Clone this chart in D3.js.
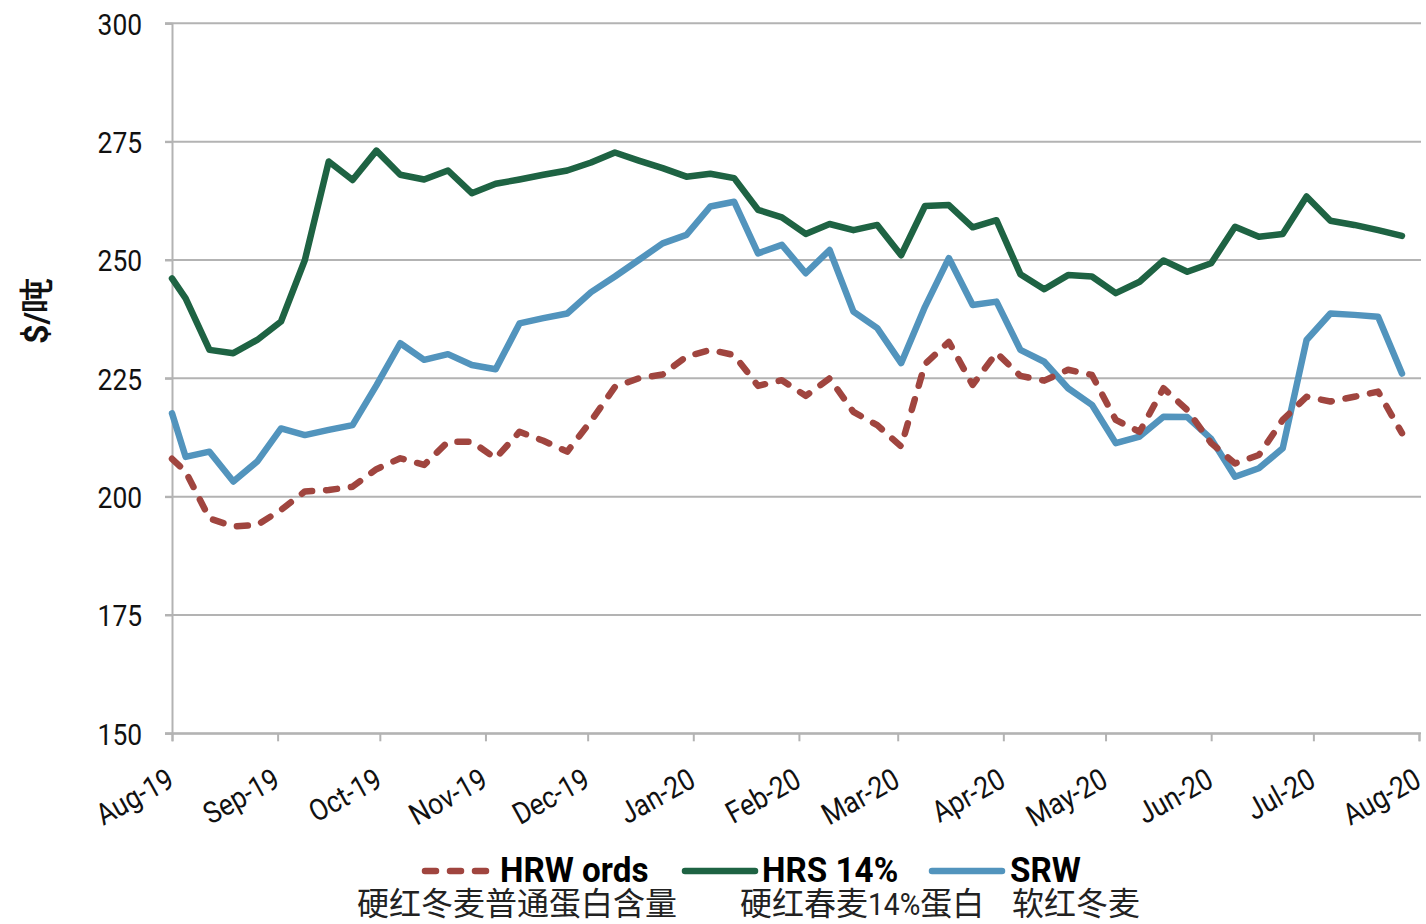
<!DOCTYPE html>
<html>
<head>
<meta charset="utf-8">
<script src="https://cdn.jsdelivr.net/npm/d3@7"></script>
<style>
  html, body { margin: 0; padding: 0; background: #fff; }
  svg { display: block; }
  .cond { font-family: Roboto, "Noto Sans", sans-serif; }
</style>
</head>
<body>
<svg id="chart" width="1426" height="924"></svg>
<script>
// Weekly wheat export prices, $/ton
const dates = [
  "2019-08-01","2019-08-05","2019-08-12","2019-08-19","2019-08-26",
  "2019-09-02","2019-09-09","2019-09-16","2019-09-23","2019-09-30",
  "2019-10-07","2019-10-14","2019-10-21","2019-10-28",
  "2019-11-04","2019-11-11","2019-11-18","2019-11-25",
  "2019-12-02","2019-12-09","2019-12-16","2019-12-23","2019-12-30",
  "2020-01-06","2020-01-13","2020-01-20","2020-01-27",
  "2020-02-03","2020-02-10","2020-02-17","2020-02-24",
  "2020-03-02","2020-03-09","2020-03-16","2020-03-23","2020-03-30",
  "2020-04-06","2020-04-13","2020-04-20","2020-04-27",
  "2020-05-04","2020-05-11","2020-05-18","2020-05-25",
  "2020-06-01","2020-06-08","2020-06-15","2020-06-22","2020-06-29",
  "2020-07-06","2020-07-13","2020-07-20","2020-07-27"
];

const hrwOrds = [
  208.0, 205.3, 195.4, 193.7, 194.0, 197.2, 201.1, 201.4, 202.1, 205.8,
  208.1, 206.7, 211.6, 211.6, 208.1, 213.7, 211.8, 209.5,
  216.0, 223.2, 225.0, 225.8, 229.6, 231.0, 229.9, 223.4, 224.6,
  221.3, 225.0, 217.9, 215.1, 210.6, 228.0, 232.7, 223.6, 230.4,
  225.5, 224.5, 226.8, 225.7, 216.2, 213.7, 222.9, 218.3, 211.3,
  207.0, 208.8, 216.2, 221.1, 220.1, 221.1, 222.2, 213.4
];

const hrs14 = [
  246.1, 241.9, 231.0, 230.3, 233.1, 237.0, 250.0, 270.8, 266.9, 273.1,
  268.0, 267.0, 268.9, 264.1, 266.1, 267.0, 268.0, 268.9,
  270.6, 272.7, 271.0, 269.4, 267.6, 268.2, 267.3, 260.6, 259.0,
  255.5, 257.6, 256.3, 257.4, 251.0, 261.4, 261.6, 256.9, 258.4,
  247.0, 243.8, 246.8, 246.5, 243.0, 245.4, 249.9, 247.5, 249.3,
  257.0, 254.9, 255.5, 263.4, 258.3, 257.4, 256.3, 255.1
];

const srw = [
  217.6, 208.4, 209.5, 203.2, 207.4, 214.4, 213.0, 214.1, 215.1, 223.5,
  232.4, 228.9, 230.1, 227.8, 226.9, 236.6, 237.7, 238.7,
  243.2, 246.5, 250.0, 253.5, 255.3, 261.3, 262.3, 251.4, 253.2,
  247.2, 252.1, 239.1, 235.6, 228.2, 240.1, 250.4, 240.5, 241.2,
  231.0, 228.5, 222.9, 219.4, 211.3, 212.7, 216.9, 216.8, 212.2,
  204.2, 206.0, 210.2, 233.1, 238.7, 238.4, 238.0, 226.0
];

const yTicks = [150, 175, 200, 225, 250, 275, 300];
const monthTicks = [
  "2019-08-01","2019-09-01","2019-10-01","2019-11-01","2019-12-01","2020-01-01",
  "2020-02-01","2020-03-01","2020-04-01","2020-05-01","2020-06-01","2020-07-01","2020-08-01"
];

const seriesNames = ["HRW ords", "HRS 14%", "SRW"];
// Chinese captions; latin runs inside them are set in the condensed face
const seriesNamesZh = [["硬红冬麦普通蛋白含量"], ["硬红春麦", "14%", "蛋白"], ["软红冬麦"]];
const yTitle = "$/吨";

const parse = d3.timeParse("%Y-%m-%d");
const fmtMonth = d3.timeFormat("%b-%y");

const svg = d3.select("#chart");
const plotLeft = 172, plotRight = 1419, plotTop = 23.3, plotBottom = 733.3;

const x = d3.scaleTime()
  .domain([parse("2019-08-01"), parse("2020-08-01")])
  .range([plotLeft, plotRight]);
const y = d3.scaleLinear().domain([150, 300]).range([plotBottom, plotTop]);

const gridColor = "#b3b3b3";
const condense = 0.88;

// horizontal gridlines (with short outer tick to the left of the axis)
svg.append("g").selectAll("line").data(yTicks).join("line")
  .attr("x1", plotLeft - 7).attr("x2", 1421)
  .attr("y1", d => y(d)).attr("y2", d => y(d))
  .attr("stroke", gridColor).attr("stroke-width", 2);

// y axis
const yAxis = svg.append("g")
  .attr("transform", `translate(${plotLeft},0)`)
  .call(d3.axisLeft(y).tickValues(yTicks).tickSize(7).tickFormat(d3.format("d")));
yAxis.select(".domain").attr("stroke", gridColor).attr("stroke-width", 2);
yAxis.selectAll(".tick line").attr("stroke", gridColor).attr("stroke-width", 2);
yAxis.selectAll(".tick text")
  .attr("class", "cond")
  .attr("font-size", 30)
  .attr("fill", "#111")
  .attr("x", -34)
  .attr("dy", "0.36em")
  .attr("transform", `scale(${condense},1)`);

// x axis
const xAxis = svg.append("g")
  .attr("transform", `translate(0,${plotBottom})`)
  .call(d3.axisBottom(x).tickValues(monthTicks.map(parse)).tickSize(8).tickFormat(() => ""));
xAxis.select(".domain").attr("stroke", gridColor).attr("stroke-width", 2);
xAxis.selectAll(".tick line").attr("stroke", gridColor).attr("stroke-width", 2);

// rotated month labels
svg.append("g").selectAll("text").data(monthTicks.map(parse)).join("text")
  .attr("class", "cond")
  .attr("font-size", 30)
  .attr("fill", "#111")
  .attr("text-anchor", "end")
  .attr("transform", d => `translate(${x(d) - 1},${plotBottom + 43}) rotate(-29) scale(${condense},1)`)
  .attr("dy", "0.35em")
  .text(d => fmtMonth(d));

// y title
svg.append("text")
  .attr("class", "cond")
  .attr("font-size", 34)
  .attr("font-weight", "bold")
  .attr("fill", "#111")
  .attr("text-anchor", "middle")
  .attr("transform", "translate(48,311) rotate(-90)")
  .text(yTitle);

// lines
const pts = vals => vals.map((v, i) => [parse(dates[i]), v]);
const line = d3.line().x(d => x(d[0])).y(d => y(d[1]));

const styles = [
  { data: hrwOrds, color: "#a0453f", dash: "11,14" },
  { data: hrs14, color: "#1e6343", dash: null },
  { data: srw, color: "#5294bd", dash: null }
];

const drawOrder = [1, 2, 0];
drawOrder.forEach(k => {
  const s = styles[k];
  svg.append("path")
    .datum(pts(s.data))
    .attr("fill", "none")
    .attr("stroke", s.color)
    .attr("stroke-width", 6.5)
    .attr("stroke-linejoin", "round")
    .attr("stroke-linecap", "round")
    .attr("stroke-dasharray", s.dash)
    .attr("d", line);
});

// legend
const legendSample = [425, 685, 932];
const legendText = [500, 762, 1010];
const legendZh = [357, 740, 1012];
const lg = svg.append("g");
styles.forEach((s, i) => {
  lg.append("line")
    .attr("x1", legendSample[i]).attr("x2", legendSample[i] + 70)
    .attr("y1", 871).attr("y2", 871)
    .attr("stroke", s.color).attr("stroke-width", 6.5)
    .attr("stroke-linecap", "round")
    .attr("stroke-dasharray", s.dash);
  lg.append("text")
    .attr("class", "cond")
    .attr("font-size", 35)
    .attr("font-weight", "bold")
    .attr("fill", "#000")
    .attr("transform", `translate(${legendText[i]},882) scale(0.95,1)`)
    .text(seriesNames[i]);

  // caption: CJK runs in Noto Sans CJK, latin runs condensed
  let cx = legendZh[i];
  seriesNamesZh[i].forEach(run => {
    const latin = /^[\x00-\x7f]+$/.test(run);
    const t = lg.append("text")
      .attr("font-size", 32)
      .attr("fill", "#222")
      .text(run);
    if (latin) {
      t.attr("class", "cond").attr("transform", `translate(${cx},915) scale(${condense},1)`);
      cx += t.node().getComputedTextLength() * condense;
    } else {
      t.attr("font-family", "'Noto Sans CJK SC', sans-serif").attr("transform", `translate(${cx},915)`);
      cx += t.node().getComputedTextLength();
    }
  });
});
</script>
</body>
</html>
